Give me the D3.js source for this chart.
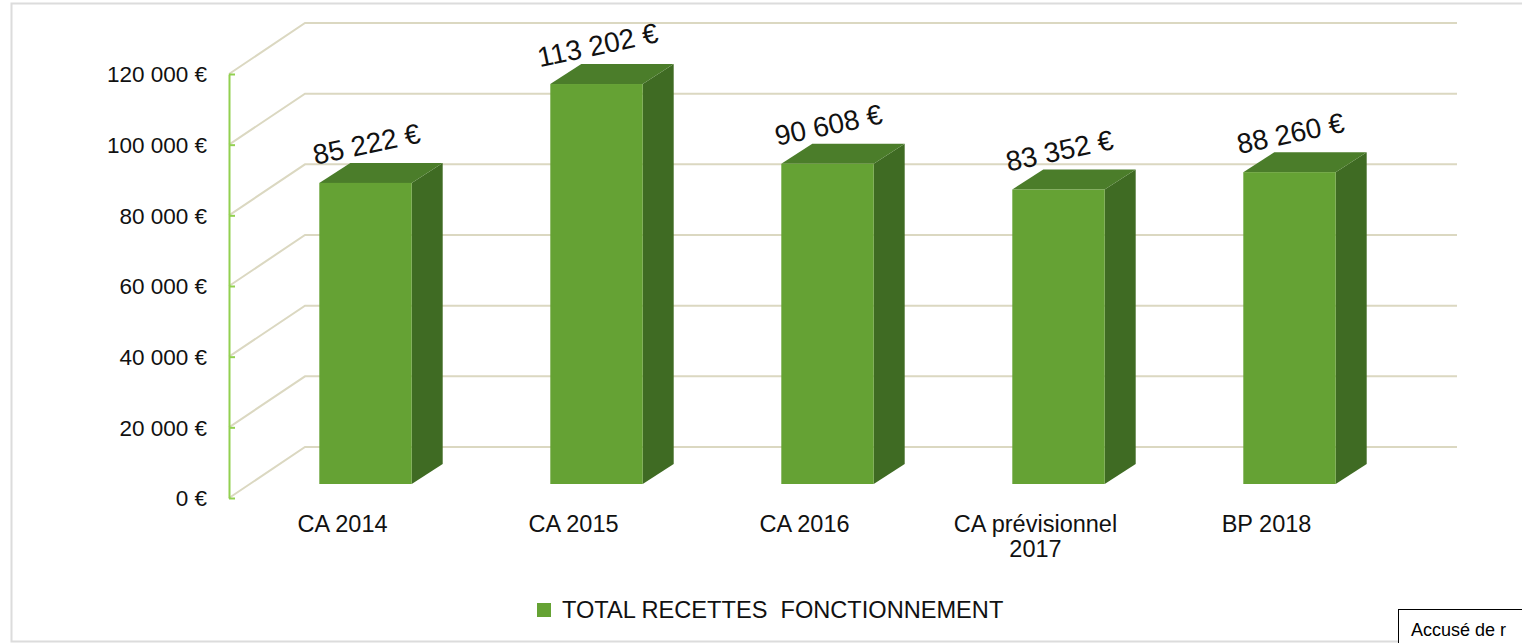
<!DOCTYPE html>
<html>
<head>
<meta charset="utf-8">
<script src="https://cdn.jsdelivr.net/npm/d3@7/dist/d3.min.js"></script>
<style>
  html, body { margin: 0; padding: 0; background: #fff; }
  svg { display: block; }
  text { font-family: "Liberation Sans", Arial, sans-serif; }
</style>
</head>
<body>
<svg id="chart" width="1522" height="643"></svg>
<script>
// ---- Data ----
const categories = ["CA 2014", "CA 2015", "CA 2016", "CA prévisionnel\n2017", "BP 2018"];
const values = [85222, 113202, 90608, 83352, 88260];
const yTicks = [0, 20000, 40000, 60000, 80000, 100000, 120000];
const seriesName = "TOTAL RECETTES  FONCTIONNEMENT";

// ---- Styles ----
const cFront = "#65a234", cTop = "#4b7d2a", cSide = "#3f6b23";
const cGrid = "#dbd8c1", cAxis = "#92d050";

const svg = d3.select("#chart");
const W = 1522, H = 643;

const loc = d3.formatLocale({decimal: ",", thousands: " ", grouping: [3], currency: ["", " €"]});
const fmt = loc.format("$,.0f");

const x = d3.scaleBand().domain(categories).range([229, 1384]).paddingInner(0).paddingOuter(0);
const y = d3.scaleLinear().domain([0, 120000]).range([498, 74]);

// 3D offsets
const DX = 76, DY = -51;      // back wall
const BX = 21, BY = -14;      // bar front face
const PX = 31, PY = -20;      // bar depth
const bw = x.bandwidth() * 0.4;

// frame
svg.append("path")
  .attr("d", `M${W + 5},3.5 L11.5,3.5 L11.5,641.5 L${W + 5},641.5`)
  .attr("fill", "none").attr("stroke", "#dcdcdc").attr("stroke-width", 2);

// gridlines (walls)
const gridG = svg.append("g");
yTicks.forEach(t => {
  const yy = y(t);
  gridG.append("path")
    .attr("d", `M${x.range()[0]},${yy} L${x.range()[0] + DX},${yy + DY} L${x.range()[1] + DX - 3},${yy + DY}`)
    .attr("fill", "none").attr("stroke", cGrid).attr("stroke-width", 2);
});

// y axis
const yAxis = d3.axisLeft(y).tickValues(yTicks).tickFormat(fmt).tickSizeInner(-6).tickSizeOuter(0);
const ag = svg.append("g").attr("transform", `translate(${x.range()[0]},0)`).call(yAxis);
ag.select(".domain").attr("stroke", cAxis).attr("stroke-width", 2);
ag.selectAll(".tick line").attr("stroke", cAxis).attr("stroke-width", 2);
ag.selectAll(".tick text")
  .attr("x", -22).attr("dy", "0.35em").attr("text-anchor", "end")
  .attr("fill", "#111").style("font-size", "22.5px").style("font-family", "'Liberation Sans', Arial, sans-serif");

// bars
const barsG = svg.append("g");
const y0 = y(0) + BY;
categories.forEach((c, i) => {
  const v = values[i];
  const xl = x(c) + (x.bandwidth() - bw) / 2 + BX;
  const xr = xl + bw;
  const yt = y(v) + BY;
  const g = barsG.append("g");
  g.append("path")
    .attr("d", `M${xr},${yt} L${xr + PX},${yt + PY} L${xr + PX},${y0 + PY} L${xr},${y0} Z`)
    .attr("fill", cSide);
  g.append("path")
    .attr("d", `M${xl},${yt} L${xl + PX},${yt + PY} L${xr + PX},${yt + PY} L${xr},${yt} Z`)
    .attr("fill", cTop);
  g.append("rect")
    .attr("x", xl).attr("y", yt).attr("width", bw).attr("height", y0 - yt)
    .attr("fill", cFront);
  // value label
  const cx = (xl + xr) / 2 + 1, cy = yt - 39;
  g.append("text")
    .attr("transform", `translate(${cx},${cy}) rotate(-12)`)
    .attr("text-anchor", "middle").attr("dy", "0.35em")
    .style("font-size", "28px").attr("fill", "#111")
    .text(fmt(v));
});

// category labels
const catG = svg.append("g");
categories.forEach(c => {
  const lines = c.split("\n");
  const t = catG.append("text")
    .attr("text-anchor", "middle")
    .style("font-size", "23.5px").attr("fill", "#111");
  lines.forEach((ln, j) => {
    t.append("tspan")
      .attr("x", x(c) + x.bandwidth() / 2 - 2)
      .attr("y", 532 + j * 25)
      .text(ln);
  });
});

// legend
svg.append("rect").attr("x", 537).attr("y", 603).attr("width", 14).attr("height", 14).attr("fill", cFront);
svg.append("text").attr("x", 562).attr("y", 618)
  .style("font-size", "23.6px").style("white-space", "pre").attr("xml:space", "preserve")
  .attr("fill", "#111").text(seriesName);

// stamp box
svg.append("rect").attr("x", 1398.5).attr("y", 609.5).attr("width", 140).attr("height", 50)
  .attr("fill", "#fff").attr("stroke", "#000").attr("stroke-width", 1);
svg.append("text").attr("x", 1411).attr("y", 636)
  .style("font-size", "18px").attr("fill", "#000").text("Accusé de r");
</script>
</body>
</html>
